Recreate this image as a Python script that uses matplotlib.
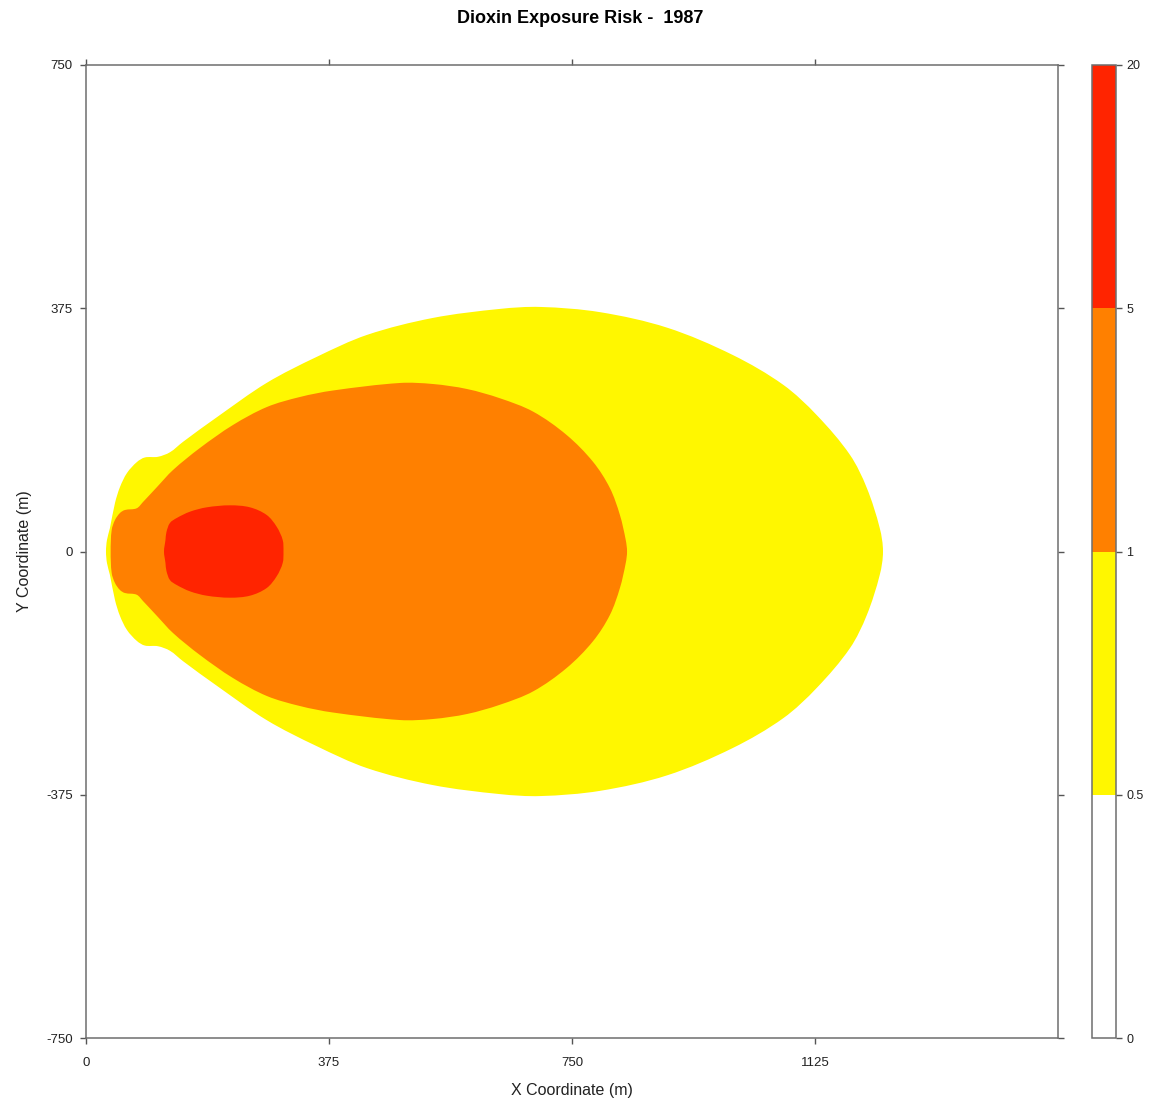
import numpy as np
import matplotlib
matplotlib.use("Agg")
import matplotlib.pyplot as plt
from matplotlib.colors import ListedColormap, BoundaryNorm
from matplotlib.cm import ScalarMappable
from matplotlib.path import Path
from matplotlib.patches import PathPatch

plt.rcParams['font.family'] = ['Liberation Sans', 'DejaVu Sans']
plt.rcParams['axes.unicode_minus'] = False

# risk classes and their fill colours
levels = [0, 0.5, 1, 5, 20]
level_colors = ['#FFFFFF', '#FFF700', '#FF8000', '#FF2400']

# contour outlines (upper half, plume is symmetric about y = 0), metres
risk_05_x = [30.9, 32.4, 37.0, 44.8, 52.5, 63.3, 78.7, 91, 111, 129.6, 149.7, 202, 279, 356,
             434, 535, 639, 701, 793, 897, 998, 1076, 1128, 1179, 1205, 1225, 1230]
risk_05_y = [0, 17.7, 36.2, 74.8, 99.4, 121, 138, 145, 146, 153, 169, 207, 260, 300,
             334, 360, 374, 377, 369, 345, 303, 257, 210, 149, 98, 36, 0]

risk_1_x = [38.1, 39.7, 44.8, 52.5, 60.2, 78.2, 88, 109.6, 134.3, 175.9, 226.8, 279.3, 330.2,
            381.2, 484.6, 535.5, 588, 638.9, 690.3, 741.8, 782.4, 808.5, 824, 833, 835]
risk_1_y = [0, 33.1, 48.6, 59.4, 64, 66.6, 76.3, 99.4, 125.6, 159.6, 195, 222.8, 238.2,
            248.2, 259.8, 258.2, 250.5, 236.2, 215.5, 179.6, 138.4, 97.9, 56.3, 17.7, 0]

risk_5_x = [120.4, 122.7, 124.2, 129.6, 140, 160.5, 186.3, 222.2, 253.1, 278.9, 294.3, 303.6, 304.8]
risk_5_y = [0, 17.7, 30, 44, 51.6, 61.4, 68.1, 71.2, 68.1, 56.3, 38.2, 17.7, 0]

x_ticks = [0, 375, 750, 1125]
y_ticks = [-750, -375, 0, 375, 750]


def smoothOutline(xs, ys):
    # mirror the upper half below the centre line, then join the points
    # with cubic segments whose handles follow the neighbouring points
    xs = np.asarray(xs, float)
    ys = np.asarray(ys, float)
    px = np.concatenate([xs, xs[-2:0:-1]])
    py = np.concatenate([ys, -ys[-2:0:-1]])
    pts = np.column_stack([px, py])
    n = len(pts)
    verts = [pts[0]]
    codes = [Path.MOVETO]
    for i in range(n):
        p0, p1, p2, p3 = pts[i - 1], pts[i], pts[(i + 1) % n], pts[(i + 2) % n]
        d = np.hypot(*(p2 - p1))
        t1 = (p2 - p0) / np.hypot(*(p2 - p0))
        t2 = (p3 - p1) / np.hypot(*(p3 - p1))
        verts += [p1 + t1 * d / 3.0, p2 - t2 * d / 3.0, p2]
        codes += [Path.CURVE4] * 3
    return Path(verts, codes)


fig = plt.figure(figsize=(11.57, 11.07), dpi=100)
ax = fig.add_axes([0.0743, 0.0623, 0.8401, 0.8790])

for (cx, cy), col in zip([(risk_05_x, risk_05_y), (risk_1_x, risk_1_y), (risk_5_x, risk_5_y)],
                         level_colors[1:]):
    ax.add_patch(PathPatch(smoothOutline(cx, cy), facecolor=col, lw=0))

ax.set_xlim(0, 1500)
ax.set_ylim(-750, 750)
ax.set_xticks(x_ticks)
ax.set_yticks(y_ticks)
ax.tick_params(direction='out', length=4.5, width=1, color='#555555', labelsize=9.5,
               labelcolor='#222222', top=True, right=True, pad=5)
ax.tick_params(axis='x', pad=9)
for s in ax.spines.values():
    s.set_color('#6e6e6e')
    s.set_linewidth(1.1)

ax.set_xlabel('X Coordinate (m)', fontsize=11.5, color='#222222', labelpad=10)
ax.set_ylabel('Y Coordinate (m)', fontsize=11.5, color='#222222', labelpad=10)
fig.text(0.5013, 0.991, 'Dioxin Exposure Risk -  1987', ha='center', va='top',
         fontsize=13, fontweight='bold')

# colour key
cax = fig.add_axes([0.9438, 0.0623, 0.0207, 0.8790])
cmap = ListedColormap(level_colors)
norm = BoundaryNorm(levels, cmap.N)
cb = fig.colorbar(ScalarMappable(norm=norm, cmap=cmap), cax=cax, ticks=levels)
cb.ax.set_yticklabels(['0', '0.5', '1', '5', '20'])
cb.ax.tick_params(direction='out', length=4.5, width=1, color='#555555', labelsize=9,
                  labelcolor='#222222', pad=3)
cb.outline.set_edgecolor('#6e6e6e')
cb.outline.set_linewidth(1.1)

fig.savefig('out.png', dpi=100)
